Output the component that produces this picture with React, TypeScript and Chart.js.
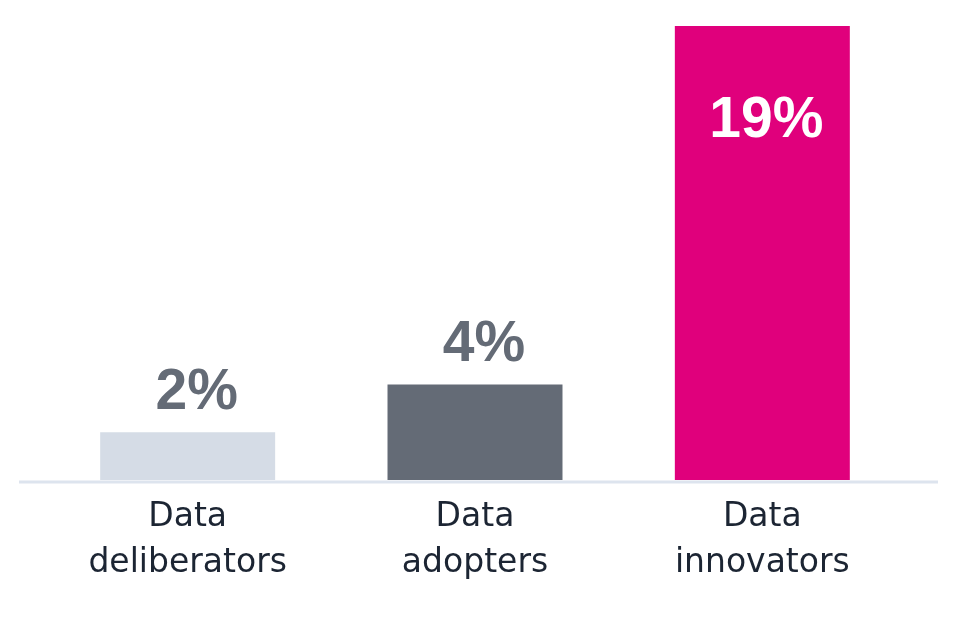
import React, { useEffect, useRef } from "react";
import { Chart, registerables } from "chart.js";

Chart.register(...registerables);

const categories: string[][] = [["Data", "deliberators"], ["Data", "adopters"], ["Data", "innovators"]];
const values: number[] = [2, 4, 19];
const valueLabels: string[] = ["2%", "4%", "19%"];
const barColors: string[] = ["#d5dce6", "#646b76", "#e0007c"];
const labelColors: string[] = ["#646b76", "#646b76", "#ffffff"];
const insideBar: boolean[] = [false, false, true];

const baselinePlugin = {
  id: "baseline",
  beforeDatasetsDraw(chart: any) {
    const { ctx, chartArea } = chart;
    ctx.save();
    ctx.strokeStyle = "#dde4ee";
    ctx.lineWidth = 3;
    ctx.beginPath();
    ctx.moveTo(chartArea.left - 25, chartArea.bottom + 2);
    ctx.lineTo(chartArea.right + 32, chartArea.bottom + 2);
    ctx.stroke();
    ctx.restore();
  },
};

const valueLabelPlugin = {
  id: "valueLabels",
  afterDatasetsDraw(chart: any) {
    const { ctx } = chart;
    const meta = chart.getDatasetMeta(0);
    ctx.save();
    ctx.font = "bold 57px 'Liberation Sans', Arial, sans-serif";
    ctx.textAlign = "center";
    ctx.textBaseline = "alphabetic";
    meta.data.forEach((bar: any, i: number) => {
      ctx.fillStyle = labelColors[i];
      if (insideBar[i]) {
        ctx.fillText(valueLabels[i], bar.x + 4, bar.y + 111);
      } else {
        ctx.fillText(valueLabels[i], bar.x + 9, bar.y - 23);
      }
    });
    ctx.restore();
  },
};

export default function App() {
  const canvasRef = useRef<HTMLCanvasElement | null>(null);

  useEffect(() => {
    if (!canvasRef.current) return;
    const chart = new Chart(canvasRef.current, {
      type: "bar",
      data: {
        labels: categories,
        datasets: [
          {
            data: values,
            backgroundColor: barColors,
            borderWidth: 0,
            barPercentage: 0.609,
            categoryPercentage: 1,
          },
        ],
      },
      options: {
        animation: false,
        responsive: false,
        maintainAspectRatio: false,
        layout: { padding: { left: 44, right: 52, top: 26, bottom: 0 } },
        plugins: {
          legend: { display: false },
          tooltip: { enabled: false },
        },
        scales: {
          x: {
            grid: { display: false, drawTicks: false },
            border: { display: false },
            ticks: {
              color: "#1c2533",
              font: { family: "'DejaVu Sans', sans-serif", size: 33, lineHeight: 1.4 },
              padding: 14,
              maxRotation: 0,
              autoSkip: false,
            },
            afterFit(scale: any) {
              scale.height = 149;
            },
          },
          y: {
            display: false,
            min: 0,
            max: 19,
          },
        },
      },
      plugins: [baselinePlugin, valueLabelPlugin],
    });
    return () => chart.destroy();
  }, []);

  return (
    <div style={{ position: "fixed", left: 0, top: 0, width: 958, height: 629, background: "#fff" }}>
      <canvas ref={canvasRef} width={958} height={629} style={{ display: "block" }} />
    </div>
  );
}
